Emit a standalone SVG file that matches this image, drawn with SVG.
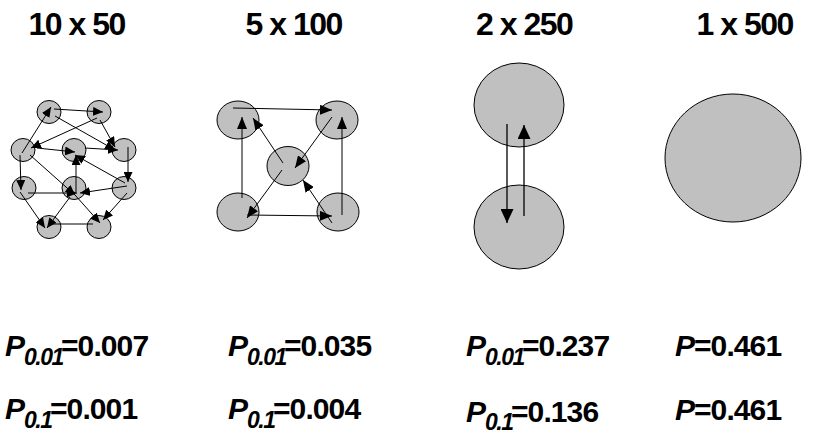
<svg xmlns="http://www.w3.org/2000/svg" width="820" height="434" viewBox="0 0 820 434">
<style>
.t{font-family:"Liberation Sans",Arial,sans-serif;font-weight:bold;font-size:32px;letter-spacing:-1.5px;fill:#000}
.l{font-family:"Liberation Sans",Arial,sans-serif;font-weight:bold;font-size:30px;letter-spacing:-0.9px;fill:#000}
.i{font-style:italic;letter-spacing:0}
.s{font-style:italic;font-size:23px;letter-spacing:-1.5px}
.n{fill:#c0c0c0;stroke:#000;stroke-width:1}
.c line{stroke:#000;stroke-width:1;fill:none}
.c1 line{marker-end:url(#a1)}
.c2 line{marker-end:url(#a2)}
.c3 line{marker-end:url(#a3);stroke-width:1.3}
</style>
<defs>
<marker id="a1" markerUnits="userSpaceOnUse" markerWidth="10" markerHeight="9" refX="10" refY="4.5" orient="auto" viewBox="0 0 10 9"><path d="M0,0 L10,4.5 L0,9 z" fill="#000"/></marker>
<marker id="a2" markerUnits="userSpaceOnUse" markerWidth="12" markerHeight="10" refX="12" refY="5" orient="auto" viewBox="0 0 12 10"><path d="M0,0 L12,5 L0,10 z" fill="#000"/></marker>
<marker id="a3" markerUnits="userSpaceOnUse" markerWidth="14" markerHeight="13" refX="14" refY="6.5" orient="auto" viewBox="0 0 14 13"><path d="M0,0 L14,6.5 L0,13 z" fill="#000"/></marker>
</defs>

<g id="titles">
<text class="t" x="28.5" y="35">10 x 50</text>
<text class="t" x="245.5" y="35">5 x 100</text>
<text class="t" x="476" y="35">2 x 250</text>
<text class="t" x="696.5" y="35">1 x 500</text>
</g>

<g id="panel1">
<ellipse id="p1A" class="n" cx="49" cy="112" rx="12" ry="11.5"/>
<ellipse id="p1B" class="n" cx="99" cy="112" rx="12" ry="11.5"/>
<ellipse id="p1C" class="n" cx="23" cy="150" rx="12" ry="11.5"/>
<ellipse id="p1D" class="n" cx="74" cy="150" rx="12" ry="11.5"/>
<ellipse id="p1E" class="n" cx="124" cy="150" rx="12" ry="11.5"/>
<ellipse id="p1F" class="n" cx="24" cy="188" rx="12" ry="11.5"/>
<ellipse id="p1G" class="n" cx="74" cy="188" rx="12" ry="11.5"/>
<ellipse id="p1H" class="n" cx="124" cy="188" rx="12" ry="11.5"/>
<ellipse id="p1I" class="n" cx="49" cy="227" rx="12" ry="11.5"/>
<ellipse id="p1J" class="n" cx="99" cy="227" rx="12" ry="11.5"/>
</g>
<g id="connectors1" class="c c1">
<line x1="22" y1="153" x2="51" y2="107"/>
<line x1="54" y1="109" x2="103" y2="112"/>
<line x1="97" y1="118" x2="31" y2="148"/>
<line x1="55" y1="116" x2="115" y2="150"/>
<line x1="100" y1="120" x2="115" y2="147"/>
<line x1="37" y1="148" x2="75" y2="152"/>
<line x1="85" y1="148" x2="118" y2="150"/>
<line x1="128" y1="147" x2="128" y2="182"/>
<line x1="20" y1="155" x2="21" y2="190"/>
<line x1="30" y1="155" x2="75" y2="195"/>
<line x1="28" y1="193" x2="77" y2="193"/>
<line x1="127" y1="186" x2="80" y2="193"/>
<line x1="125" y1="183" x2="75" y2="155"/>
<line x1="76" y1="192" x2="76" y2="155"/>
<line x1="20" y1="192" x2="45" y2="228"/>
<line x1="70" y1="197" x2="47" y2="228"/>
<line x1="75" y1="195" x2="100" y2="223"/>
<line x1="127" y1="193" x2="103" y2="220"/>
<line x1="50" y1="224" x2="93" y2="224" style="marker-end:none"/>
</g>

<g id="panel2">
<ellipse id="p2TL" class="n" cx="238" cy="120" rx="21" ry="19"/>
<ellipse id="p2TR" class="n" cx="337" cy="120" rx="21" ry="19"/>
<ellipse id="p2C" class="n" cx="288" cy="166" rx="21" ry="19.5"/>
<ellipse id="p2BL" class="n" cx="238" cy="212" rx="21" ry="19"/>
<ellipse id="p2BR" class="n" cx="338" cy="212" rx="21" ry="19"/>
</g>
<g id="connectors2" class="c c2">
<line x1="233" y1="108" x2="332" y2="110"/>
<line x1="242" y1="198" x2="242" y2="117"/>
<line x1="342" y1="215" x2="342" y2="117"/>
<line x1="283" y1="163" x2="253" y2="118"/>
<line x1="332" y1="117" x2="295" y2="168"/>
<line x1="282" y1="170" x2="247" y2="218"/>
<line x1="247" y1="215" x2="332" y2="216"/>
<line x1="332" y1="223" x2="303" y2="180"/>
</g>

<g id="panel3">
<ellipse id="p3T" class="n" cx="519" cy="105" rx="45" ry="42"/>
<ellipse id="p3B" class="n" cx="519" cy="227" rx="45" ry="42"/>
</g>
<g id="connectors3" class="c c3">
<line x1="507" y1="124" x2="507" y2="223"/>
<line x1="524" y1="216" x2="524" y2="125"/>
</g>

<g id="panel4">
<ellipse id="p4" class="n" cx="733" cy="158" rx="68" ry="64"/>
</g>

<g id="labels">
<text class="l" x="5" y="356"><tspan class="i">P</tspan><tspan class="s" x="24" y="365">0.01</tspan><tspan x="61" y="356">=0.007</tspan></text>
<text class="l" x="5" y="419"><tspan class="i">P</tspan><tspan class="s" x="24" y="428">0.1</tspan><tspan x="50" y="419">=0.001</tspan></text>
<text class="l" x="228" y="356"><tspan class="i">P</tspan><tspan class="s" x="247" y="365">0.01</tspan><tspan x="284" y="356">=0.035</tspan></text>
<text class="l" x="228" y="419"><tspan class="i">P</tspan><tspan class="s" x="247" y="428">0.1</tspan><tspan x="273" y="419">=0.004</tspan></text>
<text class="l" x="466" y="356"><tspan class="i">P</tspan><tspan class="s" x="485" y="365">0.01</tspan><tspan x="522" y="356">=0.237</tspan></text>
<text class="l" x="466" y="422"><tspan class="i">P</tspan><tspan class="s" x="485" y="430">0.1</tspan><tspan x="511" y="422">=0.136</tspan></text>
<text class="l" x="675" y="356"><tspan class="i">P</tspan><tspan x="694">=0.461</tspan></text>
<text class="l" x="675" y="420"><tspan class="i">P</tspan><tspan x="694">=0.461</tspan></text>
</g>
</svg>
